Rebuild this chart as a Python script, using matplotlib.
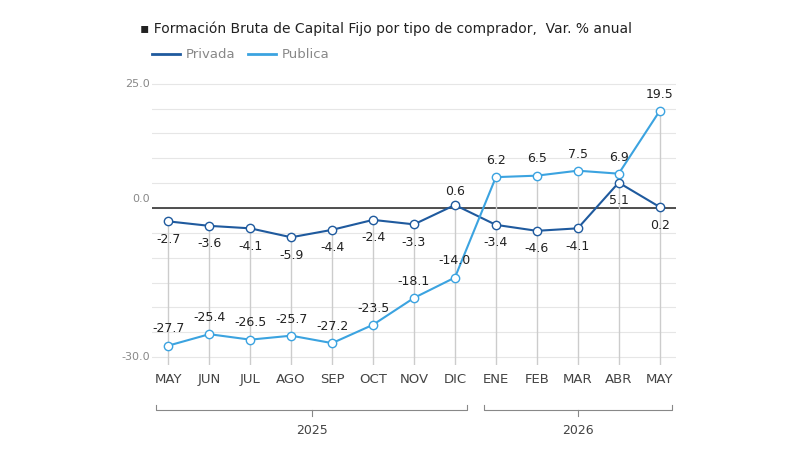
import matplotlib.pyplot as plt

months = ["MAY", "JUN", "JUL", "AGO", "SEP", "OCT", "NOV", "DIC", "ENE", "FEB", "MAR", "ABR", "MAY"]
privada = [-2.7, -3.6, -4.1, -5.9, -4.4, -2.4, -3.3, 0.6, -3.4, -4.6, -4.1, 5.1, 0.2]
publica = [-27.7, -25.4, -26.5, -25.7, -27.2, -23.5, -18.1, -14.0, 6.2, 6.5, 7.5, 6.9, 19.5]

c_priv = "#1f5a9e"
c_pub = "#3ba3e0"

fig = plt.figure(figsize=(8, 4.5), dpi=100)
ax = fig.add_axes([0.19, 0.19, 0.655, 0.635])
x = list(range(len(months)))

for v in range(-30, 26, 5):
    ax.axhline(v, color="#e6e6e6", lw=0.8, zorder=0)
ax.axhline(0, color="#333333", lw=1.2, zorder=1)
for i in x:
    top = max(privada[i], publica[i])
    ax.plot([i, i], [-31.5, top], color="#cccccc", lw=1, zorder=1)

ax.plot(x, privada, color=c_priv, lw=1.5, marker="o", ms=6, mfc="white", mec=c_priv, zorder=3)
ax.plot(x, publica, color=c_pub, lw=1.5, marker="o", ms=6, mfc="white", mec=c_pub, zorder=3)

for i in x:
    p, q = privada[i], publica[i]
    ax.annotate(f"{p:.1f}", (i, p), xytext=(0, 10 if i == 7 else -13), textcoords="offset points",
                ha="center", va="center", fontsize=9, color="#222222")
    ax.annotate(f"{q:.1f}", (i, q), xytext=(0, 12), textcoords="offset points",
                ha="center", va="center", fontsize=9, color="#222222")

ax.set_xlim(-0.4, 12.4)
ax.set_ylim(-31.5, 26)
ax.set_yticks([])
ax.set_xticks(x)
ax.set_xticklabels(months, fontsize=9.5, color="#444444")
ax.tick_params(axis="x", length=0, pad=6)
for s in ax.spines.values():
    s.set_visible(False)
ax.text(-0.45, 25, "25.0", fontsize=8, color="#888888", ha="right", va="center")
ax.text(-0.45, 0.8, "0.0", fontsize=8, color="#888888", ha="right", va="bottom")
ax.text(-0.45, -30, "-30.0", fontsize=8, color="#888888", ha="right", va="center")

# year brackets
tr = ax.get_xaxis_transform()
for a, b, lab in [(0, 7, "2025"), (8, 12, "2026")]:
    y0 = -0.16
    ax.plot([a - 0.3, a - 0.3, b + 0.3, b + 0.3], [y0 + 0.02, y0, y0, y0 + 0.02],
            transform=tr, color="#888888", lw=0.8, clip_on=False)
    ax.plot([(a + b) / 2] * 2, [y0, y0 - 0.02], transform=tr, color="#888888", lw=0.8, clip_on=False)
    ax.text((a + b) / 2, y0 - 0.07, lab, transform=tr, ha="center", va="center", fontsize=9, color="#444444")

fig.text(0.175, 0.935, "\u25aa Formación Bruta de Capital Fijo por tipo de comprador,  Var. % anual",
         fontsize=10, color="#222222", va="center")
fig.lines.append(plt.Line2D([0.19, 0.225], [0.88, 0.88], color=c_priv, lw=2, transform=fig.transFigure))
fig.text(0.232, 0.88, "Privada", fontsize=9.5, color="#888888", va="center")
fig.lines.append(plt.Line2D([0.31, 0.345], [0.88, 0.88], color=c_pub, lw=2, transform=fig.transFigure))
fig.text(0.352, 0.88, "Publica", fontsize=9.5, color="#888888", va="center")

fig.savefig("out.png")
